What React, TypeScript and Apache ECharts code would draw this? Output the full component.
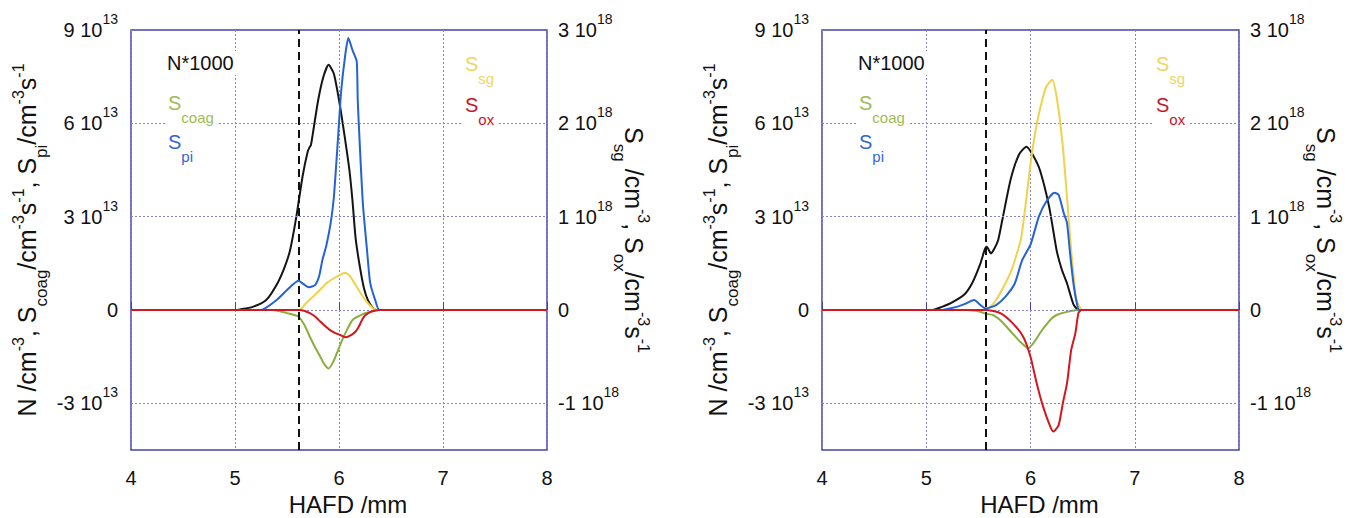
import React, { useEffect, useRef } from "react";
import * as echarts from "echarts";

// ---------- data ----------
const xMin = 4;
const xMax = 8;
const leftTickValues = [-3, 0, 3, 6, 9]; // units of 1e13
const rightTickValues = [-1, 0, 1, 2, 3]; // units of 1e18
const hGridLines = [-3, 0, 3, 6]; // left-axis units
const panelMarkerX = [5.61, 5.57];

// Panel A (left) — left axis in 1e13, right axis in 1e18
const aN: number[][] = [[4,0],[5.0,0],[5.05,0.02],[5.17,0.1],[5.3,0.32],[5.41,0.87],[5.48,1.4],[5.53,1.93],[5.59,3.0],[5.65,4.3],[5.7,5.1],[5.72,5.25],[5.73,5.3],[5.75,5.7],[5.8,6.75],[5.85,7.5],[5.9,7.88],[5.95,7.6],[6.0,6.75],[6.05,5.68],[6.1,4.5],[6.13,3.5],[6.16,2.3],[6.2,1.4],[6.24,0.7],[6.28,0.3],[6.33,0.05],[6.36,0],[8,0]];
const aPi: number[][] = [[4,0],[5.2,0],[5.27,0.02],[5.4,0.32],[5.5,0.64],[5.61,0.94],[5.66,0.83],[5.71,0.73],[5.77,0.8],[5.81,1.1],[5.84,1.6],[5.88,2.1],[5.92,2.8],[5.95,3.6],[5.99,5.5],[6.02,7.0],[6.06,8.2],[6.09,8.74],[6.13,8.35],[6.17,8.0],[6.18,6.75],[6.2,5.3],[6.23,3.4],[6.27,1.9],[6.3,0.87],[6.35,0.3],[6.39,0],[8,0]];
const aCoag: number[][] = [[4,0],[5.37,0],[5.5,-0.1],[5.61,-0.21],[5.67,-0.5],[5.72,-0.86],[5.77,-1.2],[5.82,-1.5],[5.86,-1.75],[5.9,-1.88],[5.94,-1.7],[5.98,-1.39],[6.02,-1.05],[6.06,-0.75],[6.13,-0.32],[6.23,-0.13],[6.33,-0.03],[6.38,0],[8,0]];
const aSg: number[][] = [[4,0],[5.62,0],[5.68,0.07],[5.75,0.143],[5.82,0.22],[5.88,0.287],[5.95,0.34],[6.01,0.377],[6.06,0.4],[6.1,0.37],[6.13,0.323],[6.18,0.23],[6.23,0.143],[6.28,0.07],[6.33,0.017],[6.36,0],[8,0]];
const aOx: number[][] = [[4,0],[5.62,0],[5.67,-0.01],[5.72,-0.033],[5.77,-0.07],[5.82,-0.123],[5.87,-0.175],[5.91,-0.213],[5.96,-0.245],[6.01,-0.267],[6.06,-0.293],[6.12,-0.267],[6.16,-0.23],[6.19,-0.18],[6.22,-0.11],[6.25,-0.06],[6.31,-0.017],[6.39,0],[8,0]];

// Panel B (right)
const bN: number[][] = [[4,0],[5.06,0],[5.15,0.1],[5.23,0.21],[5.36,0.48],[5.44,0.86],[5.52,1.5],[5.56,1.93],[5.58,2.03],[5.62,1.82],[5.65,1.95],[5.69,2.25],[5.73,2.9],[5.81,4.2],[5.89,5.0],[5.96,5.25],[6.02,5.0],[6.09,4.5],[6.18,3.3],[6.25,1.93],[6.3,1.3],[6.35,0.86],[6.41,0.2],[6.46,0],[8,0]];
const bPi: number[][] = [[4,0],[5.13,0],[5.29,0.1],[5.38,0.21],[5.46,0.32],[5.52,0.16],[5.57,0.05],[5.67,0.16],[5.76,0.43],[5.85,0.86],[5.92,1.6],[6.0,2.1],[6.08,3.0],[6.15,3.48],[6.23,3.77],[6.27,3.7],[6.32,3.1],[6.35,2.8],[6.38,1.8],[6.41,0.9],[6.44,0.3],[6.47,0],[8,0]];
const bCoag: number[][] = [[4,0],[5.4,0],[5.51,-0.05],[5.58,-0.13],[5.64,-0.16],[5.7,-0.3],[5.77,-0.54],[5.84,-0.8],[5.9,-1.02],[5.98,-1.23],[6.02,-1.1],[6.06,-0.91],[6.1,-0.7],[6.15,-0.48],[6.2,-0.28],[6.25,-0.16],[6.35,-0.06],[6.46,0],[8,0]];
const bSg: number[][] = [[4,0],[5.57,0],[5.62,0.04],[5.67,0.107],[5.76,0.287],[5.82,0.433],[5.86,0.57],[5.91,0.767],[5.95,1.1],[6.0,1.567],[6.04,1.867],[6.08,2.1],[6.15,2.393],[6.21,2.467],[6.26,2.217],[6.31,1.75],[6.35,1.213],[6.39,0.643],[6.42,0.3],[6.44,0.107],[6.5,0],[8,0]];
const bOx: number[][] = [[4,0],[5.57,0],[5.71,-0.033],[5.83,-0.143],[5.93,-0.287],[6.0,-0.5],[6.06,-0.787],[6.12,-1.033],[6.19,-1.25],[6.22,-1.303],[6.27,-1.233],[6.31,-1.0],[6.35,-0.787],[6.39,-0.43],[6.43,-0.25],[6.46,-0.033],[6.49,0],[8,0]];

const panels = [
  { N: aN, pi: aPi, coag: aCoag, sg: aSg, ox: aOx },
  { N: bN, pi: bPi, coag: bCoag, sg: bSg, ox: bOx },
];

// ---------- style ----------
const FONT = "'Liberation Sans', Arial, sans-serif";
const BORDER = "#4444a6";
const GRIDC = "#8484cc";
const C = {
  N: "#141414",
  pi: "#2462d6",
  sg: "#f0d24a",
  coag: "#8aae3c",
  ox: "#d4161e",
};
const grids = [
  { left: 131, top: 30, width: 416, height: 420 },
  { left: 822, top: 30, width: 417, height: 420 },
];

const near = (list: number[], v: number) => list.some((t) => Math.abs(t - v) < 1e-9);

const tickRich = {
  b: { fontSize: 20, padding: [8, 0, 0, 0], verticalAlign: "bottom", color: "#111", fontFamily: FONT },
  s: { fontSize: 14, verticalAlign: "top", color: "#111", fontFamily: FONT },
};

const nameRich = {
  t: { fontSize: 25, lineHeight: 46, color: "#111", fontFamily: FONT },
  sup: { fontSize: 16, padding: [6, 0, 0, 0], verticalAlign: "top", color: "#111", fontFamily: FONT },
  sub: { fontSize: 17, verticalAlign: "bottom", color: "#111", fontFamily: FONT },
};

const leftName =
  "{t|N /cm}{sup|-3}{t|, S}{sub|coag}{t|/cm}{sup|-3}{t|s}{sup|-1}{t|, S}{sub|pi}{t|/cm}{sup|-3}{t|s}{sup|-1}";
const rightName = "{t|S}{sub|sg}{t| /cm}{sup|-3}{t|, S}{sub|ox}{t|/cm}{sup|-3}{t|s}{sup|-1}";

const legendItems = [
  { text: "N*1000", color: "#111111", dx: 33, dy: 21, rich: false },
  { text: "{S|S}{sub|coag}", color: "#9ebc55", dx: 34, dy: 63, rich: true },
  { text: "{S|S}{sub|pi}", color: "#3366d4", dx: 34, dy: 102, rich: true },
  { text: "{S|S}{sub|sg}", color: "#efd660", dx: 331, dy: 24, rich: true },
  { text: "{S|S}{sub|ox}", color: "#cc1426", dx: 331, dy: 65, rich: true },
];

function buildOption() {
  const xAxis: any[] = [];
  const yAxis: any[] = [];
  const series: any[] = [];
  const graphic: any[] = [];

  grids.forEach((g, p) => {
    xAxis.push({
      type: "value",
      gridIndex: p,
      min: xMin,
      max: xMax,
      interval: 1,
      axisLine: { show: false },
      axisTick: { show: true, inside: true, length: 8, lineStyle: { color: BORDER, width: 1 } },
      axisLabel: { fontSize: 20, color: "#111", margin: 18, fontFamily: FONT },
      splitLine: { show: true, lineStyle: { color: GRIDC, type: [2, 2], width: 1 } },
      name: "HAFD /mm",
      nameLocation: "middle",
      nameGap: 40,
      nameTextStyle: { fontSize: 24, color: "#111", fontFamily: FONT, padding: [0, 0, 0, 18] },
    });
    yAxis.push({
      type: "value",
      gridIndex: p,
      position: "left",
      min: -4.5,
      max: 9,
      interval: 1.5,
      axisLine: { show: false },
      axisTick: { show: false },
      splitLine: { show: false },
      axisLabel: {
        margin: 13,
        padding: [0, 0, 8, 0],
        formatter: (v: number) => {
          if (!near(leftTickValues, v)) return "";
          return v === 0 ? "{b|0}" : `{b|${v} 10}{s|13}`;
        },
        rich: tickRich,
      },
      name: leftName,
      nameLocation: "middle",
      nameRotate: 90,
      nameGap: 81,
      nameMoveOverlap: false,
      nameTextStyle: { rich: nameRich, color: "#111", fontFamily: FONT, fontSize: 25 },
    });
    yAxis.push({
      type: "value",
      gridIndex: p,
      position: "right",
      min: -1.5,
      max: 3,
      interval: 0.5,
      axisLine: { show: false },
      axisTick: { show: false },
      splitLine: { show: false },
      axisLabel: {
        margin: 11,
        padding: [0, 0, 8, 0],
        formatter: (v: number) => {
          if (!near(rightTickValues, v)) return "";
          return v === 0 ? "{b|0}" : `{b|${v} 10}{s|18}`;
        },
        rich: tickRich,
      },
      name: rightName,
      nameLocation: "middle",
      nameRotate: -90,
      nameGap: 64,
      nameMoveOverlap: false,
      nameTextStyle: { rich: nameRich, color: "#111", fontFamily: FONT, fontSize: 25 },
    });

    const yl = p * 2;
    const yr = p * 2 + 1;
    const d = panels[p];

    // horizontal grid lines
    series.push({
      type: "line",
      xAxisIndex: p,
      yAxisIndex: yl,
      data: [],
      z: 1,
      silent: true,
      markLine: {
        silent: true,
        symbol: ["none", "none"],
        label: { show: false },
        lineStyle: { color: GRIDC, type: [2, 2], width: 1 },
        data: hGridLines.map((v) => ({ yAxis: v })),
      },
    });
    // dashed vertical marker
    series.push({
      type: "line",
      xAxisIndex: p,
      yAxisIndex: yl,
      data: [],
      z: 2,
      silent: true,
      markLine: {
        silent: true,
        symbol: ["none", "none"],
        label: { show: false },
        lineStyle: { color: "#111", type: [8, 5], width: 2 },
        data: [{ xAxis: panelMarkerX[p] }],
      },
    });

    const mk = (name: string, data: number[][], color: string, yi: number, z: number) => ({
      type: "line",
      name,
      xAxisIndex: p,
      yAxisIndex: yi,
      data,
      showSymbol: false,
      symbol: "none",
      smooth: 0.2,
      silent: true,
      z,
      lineStyle: { color, width: 2 },
    });
    series.push(mk("N*1000", d.N, C.N, yl, 3));
    series.push(mk("S_coag", d.coag, C.coag, yl, 4));
    series.push(mk("S_sg", d.sg, C.sg, yr, 5));
    series.push(mk("S_pi", d.pi, C.pi, yl, 6));
    series.push(mk("S_ox", d.ox, C.ox, yr, 7));

    legendItems.forEach((it) => {
      graphic.push({
        type: "text",
        x: g.left + it.dx,
        y: g.top + it.dy,
        z: 100,
        silent: true,
        style: it.rich
          ? {
              text: it.text,
              fill: it.color,
              backgroundColor: "#ffffff",
              padding: [0, 3, 0, 3],
              verticalAlign: "top",
              rich: {
                S: { fontSize: 20, verticalAlign: "top", fill: it.color, fontFamily: FONT },
                sub: { fontSize: 15, padding: [17, 0, 0, 0], verticalAlign: "bottom", fill: it.color, fontFamily: FONT },
              },
            }
          : {
              text: it.text,
              fill: it.color,
              fontSize: 20,
              fontFamily: FONT,
              backgroundColor: "#ffffff",
              padding: [2, 3, 2, 3],
              verticalAlign: "top",
            },
      });
    });
  });

  return {
    animation: false,
    backgroundColor: "#ffffff",
    textStyle: { fontFamily: FONT },
    grid: grids.map((g) => ({
      ...g,
      show: true,
      containLabel: false,
      outerBoundsMode: "none",
      borderColor: BORDER,
      borderWidth: 1.5,
      backgroundColor: "transparent",
    })),
    xAxis,
    yAxis,
    series,
    graphic,
  };
}

export default function App() {
  const ref = useRef<HTMLDivElement>(null);
  useEffect(() => {
    if (!ref.current) return;
    const chart = echarts.init(ref.current, null, { renderer: "svg" });
    chart.setOption(buildOption() as any);
    return () => chart.dispose();
  }, []);
  return (
    <div
      ref={ref}
      style={{ position: "fixed", left: 0, top: 0, width: 1354, height: 518, background: "#fff" }}
    />
  );
}
